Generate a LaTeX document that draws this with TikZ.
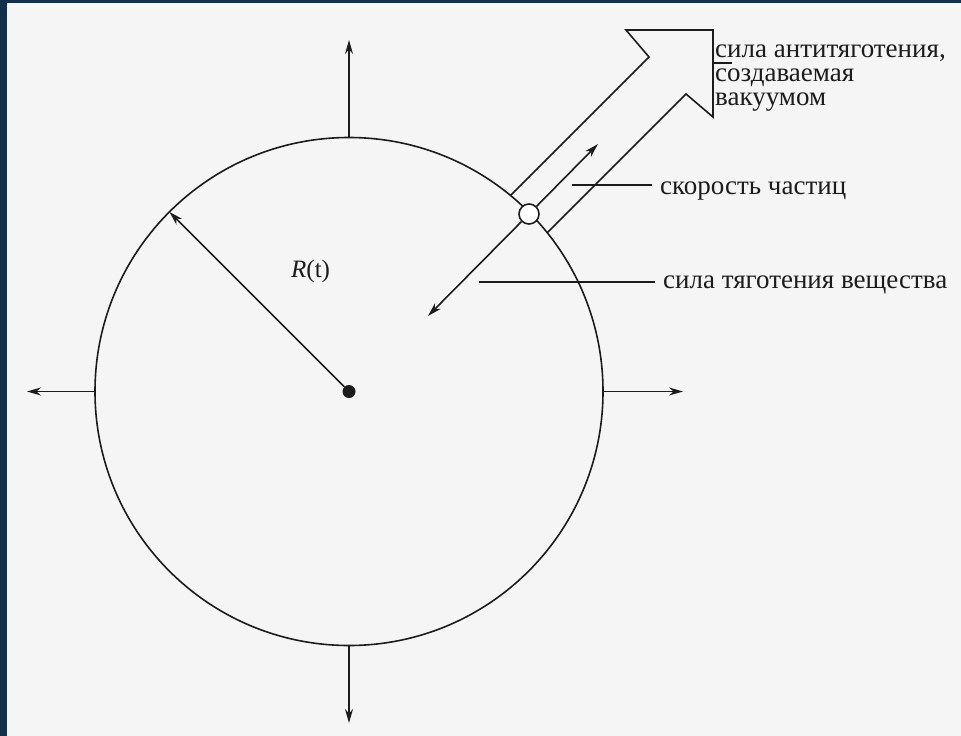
\documentclass[tikz,border=0pt]{standalone}
\usepackage{fontspec}
\setmainfont{Liberation Serif}
\usetikzlibrary{arrows.meta}
\definecolor{ink}{HTML}{1C1C1C}
\definecolor{paper}{HTML}{F5F5F5}
\definecolor{navy}{HTML}{123049}
\tikzset{
  line/.style={draw=ink, line width=1.6pt},
  arr/.style={line, -{Stealth[length=14pt,width=8pt]}},
  lbl/.style={text=ink, inner sep=0pt, font=\fontsize{27}{24}\selectfont},
  dot/.style={circle, fill=ink, minimum size=13pt, inner sep=0pt},
  part/.style={circle, draw=ink, line width=1.6pt, fill=white, minimum size=20pt, inner sep=0pt}
}
\begin{document}
\begin{tikzpicture}[x=1pt,y=-1pt]
\useasboundingbox (0,0) rectangle (961,736);
\fill[paper] (0,0) rectangle (961,736);
\fill[navy] (0,0) rectangle (7,736);
\fill[navy] (0,0) rectangle (961,3);

% sphere
\coordinate (o) at (349,391.5);
\draw[line] (o) circle[radius=254];

% outward arrows
\coordinate (top) at (349,137.5);
\coordinate (topt) at (349,40);
\coordinate (bot) at (349,645.5);
\coordinate (bott) at (349,723);
\coordinate (lft) at (95,391.5);
\coordinate (lftt) at (27,391.5);
\coordinate (rgt) at (603,391.5);
\coordinate (rgtt) at (683,391.5);
\draw[arr] (top) -- (topt);
\draw[arr] (bot) -- (bott);
\draw[arr] (lft) -- (lftt);
\draw[arr] (rgt) -- (rgtt);

% radius
\node[dot] (c) at (o) {};
\coordinate (rim) at (169.4,211.9);
\draw[arr] (c) -- (rim);
\node[anchor=base west, text=ink, inner sep=0pt, font=\fontsize{25}{28}\selectfont] (rt) at (291,277) {\textit{R}(t)};

% hollow arrow
\coordinate (ua) at (510.5,195.5);
\coordinate (la) at (547.3,232.7);
\coordinate (un) at (649,57);
\coordinate (ub) at (626,30);
\coordinate (tip) at (713,30);
\coordinate (lb) at (713,117);
\coordinate (ln) at (686,94);
\draw[line, line join=miter] (ua) -- (un) -- (ub) -- (tip) -- (lb) -- (ln) -- (la);

% particle
\node[part] (p) at (529,214) {};
\coordinate (vt) at (598,144);
\coordinate (gt) at (428,316);
\draw[arr] (p) -- (vt);
\draw[arr] (p) -- (gt);

% labels
\node[lbl, anchor=base west, align=left] (agt) at (715,105) {сила антитяготения,\\создаваемая\\вакуумом};
\coordinate (ag1) at (713,63);
\coordinate (ag2) at (732,63);
\draw[line] (ag1) -- (ag2);

\node[lbl, anchor=base west] (vel) at (660,194) {скорость частиц};
\coordinate (v1) at (572,185);
\coordinate (v2) at (652,185);
\draw[line] (v1) -- (v2);

\node[lbl, anchor=base west] (grv) at (663,288) {сила тяготения вещества};
\coordinate (g1) at (479,282);
\coordinate (g2) at (655,282);
\draw[line] (g1) -- (g2);
\end{tikzpicture}
\end{document}
